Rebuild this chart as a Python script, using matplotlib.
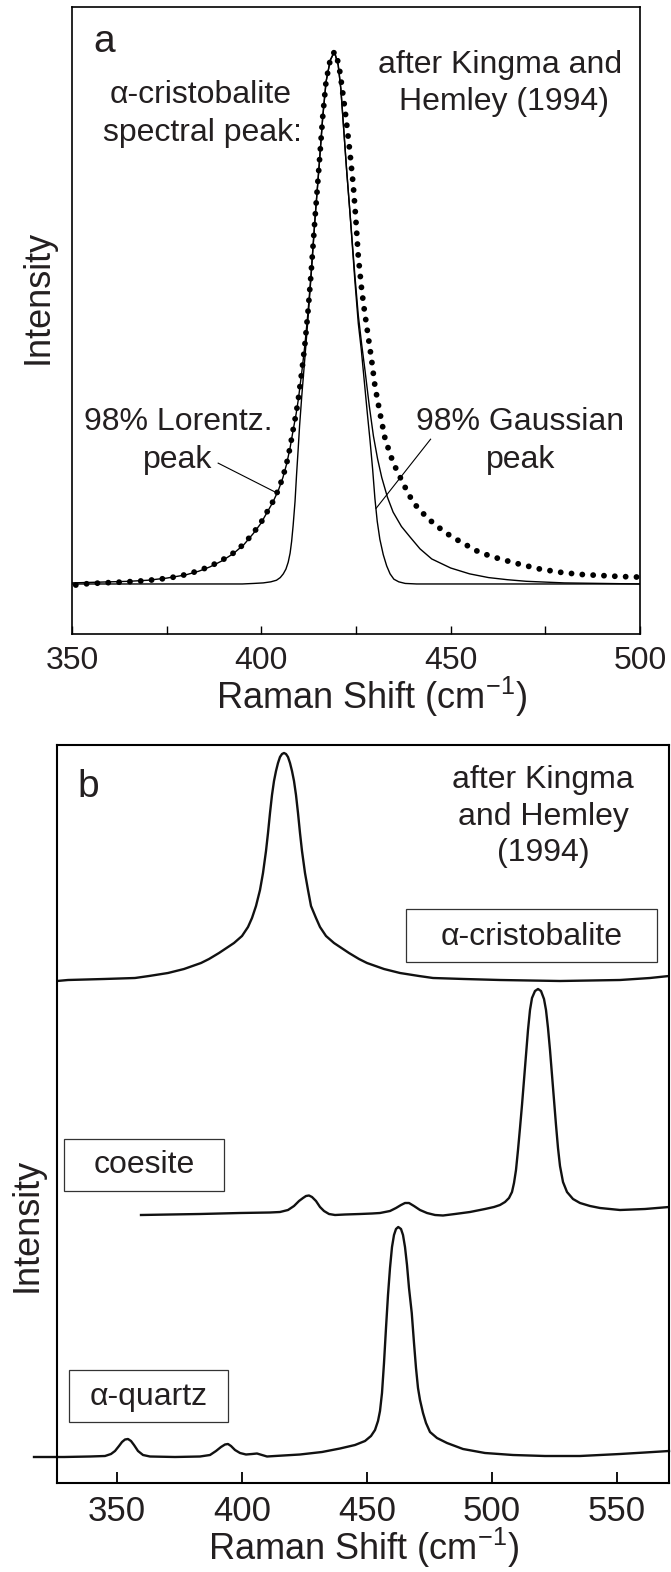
import matplotlib
matplotlib.use('Agg')
import matplotlib.pyplot as plt
from matplotlib.patches import Rectangle
import matplotlib.ticker as mticker

plt.rcParams['font.family'] = ['Liberation Sans', 'DejaVu Sans']
plt.rcParams['mathtext.fontset'] = 'custom'
plt.rcParams['mathtext.rm'] = 'Liberation Sans'
plt.rcParams['mathtext.it'] = 'Liberation Sans:italic'
plt.rcParams['mathtext.default'] = 'regular'

# ---------------- data: panel a (alpha-cristobalite peak) ----------------
obs_x = [351, 353, 358, 364.4, 369, 373.2, 377, 380.3, 383.5, 386.4, 389.5, 392.6, 395.4,
         397.9, 399.8, 401.4, 403.0, 404.5, 405.7, 406.7, 407.6, 408.4, 409.2, 409.8, 410.7,
         411.5, 412.3, 413.1, 414.2, 415.3, 416.2, 417.1, 418.2, 419.3, 420.1, 420.8, 422.1,
         423.4, 424.3, 424.9, 425.6, 426.5, 427.1, 428.2, 429.1, 430.0, 431.3, 432.7, 434.8,
         437.5, 440.1, 443.7, 446.3, 449.8, 452.9, 457.7, 463.0, 468.3, 473.6, 478.9, 484.1,
         489.4, 494.7, 499.5]
obs_y = [-0.002, 0.000, 0.002, 0.004, 0.006, 0.009, 0.013, 0.018, 0.025, 0.033, 0.044, 0.058, 0.075,
         0.096, 0.114, 0.134, 0.154, 0.177, 0.201, 0.227, 0.257, 0.290, 0.321, 0.349, 0.400,
         0.450, 0.510, 0.580, 0.690, 0.790, 0.877, 0.945, 0.985, 1.000, 0.985, 0.960, 0.891,
         0.811, 0.747, 0.691, 0.616, 0.553, 0.520, 0.466, 0.422, 0.372, 0.322, 0.272, 0.228,
         0.188, 0.153, 0.125, 0.109, 0.091, 0.078, 0.059, 0.047, 0.037, 0.028, 0.022, 0.018,
         0.016, 0.014, 0.013]

lor_x = [350, 355, 360, 365, 370, 375, 380, 383.5, 386.4, 389.5, 392.6, 395.4, 397.9, 399.8,
         401.4, 403.0, 404.5, 405.7, 406.7, 407.6, 408.4, 409.2, 409.8, 410.7, 411.5, 412.3,
         413.1, 414.2, 415.3, 416.2, 417.1, 418.2, 419.3, 420.3, 421.0, 421.6, 422.5, 423.4,
         424.7, 425.6, 426.5, 427.4, 428.5, 429.6, 430.7, 431.8, 433.3, 434.8, 437.0, 439.3,
         441.9, 445.0, 450.0, 455.0, 460.0, 465.0, 470.0, 480.0, 490.0, 500.0]
lor_y = [0.002, 0.003, 0.004, 0.005, 0.007, 0.011, 0.017, 0.024, 0.032, 0.043, 0.057, 0.074, 0.095,
         0.113, 0.133, 0.153, 0.176, 0.200, 0.226, 0.256, 0.289, 0.320, 0.348, 0.399, 0.449,
         0.509, 0.579, 0.689, 0.789, 0.876, 0.944, 0.984, 1.000, 0.975, 0.930, 0.870, 0.780,
         0.698, 0.580, 0.505, 0.450, 0.400, 0.335, 0.278, 0.235, 0.200, 0.163, 0.135, 0.108,
         0.088, 0.066, 0.047, 0.030, 0.019, 0.012, 0.008, 0.005, 0.002, 0.001, 0.000]

gau_x = [350, 395, 398, 400.5, 402.5, 404.0, 405.0, 405.8, 406.5, 407.1, 407.6, 408.0, 408.4,
         408.9, 409.3, 409.7, 410.1, 410.7, 411.5, 412.4, 413.2, 414.2, 415.3, 416.2, 417.1,
         418.2, 419.3, 420.3, 421.0, 421.6, 422.5, 423.4, 424.7, 425.6, 426.4, 427.2, 428.0,
         428.7, 429.4, 430.0, 430.6, 431.3, 432.2, 433.1, 434.0, 435.0, 436.3, 438.0, 441.0,
         500]
gau_y = [0.000, 0.000, 0.001, 0.002, 0.004, 0.007, 0.012, 0.019, 0.028, 0.041, 0.058, 0.080, 0.110,
         0.155, 0.205, 0.250, 0.297, 0.355, 0.425, 0.505, 0.585, 0.689, 0.789, 0.876, 0.944,
         0.984, 1.000, 0.975, 0.930, 0.870, 0.780, 0.698, 0.570, 0.490, 0.440, 0.380, 0.320,
         0.270, 0.215, 0.160, 0.118, 0.084, 0.055, 0.034, 0.019, 0.009, 0.004, 0.001, 0.000,
         0.000]

a_ticks_major = [350, 400, 450, 500]
a_ticks_minor = [375, 425, 475]

# ---------------- data: panel b (silica polymorph spectra) ----------------
cri_x = [326.0, 330.4, 344.8, 357.2, 362.8, 370.4, 376.8, 383.6, 386.8, 390.8, 394.4, 396.8,
         400.0, 402.4, 404.0, 405.6, 407.2, 408.4, 409.6, 410.4, 411.2, 412.0, 412.8, 413.6,
         414.4, 415.2, 416.0, 416.8, 417.6, 418.4, 419.2, 420.0, 420.8, 421.6, 422.4, 423.2,
         424.0, 425.2, 426.4, 427.6, 429.6, 431.2, 433.6, 436.8, 439.2, 442.8, 446.8, 450.0,
         456.8, 463.2, 470.8, 476.4, 488.8, 503.2, 527.2, 551.2, 563.2, 570.8]
cri_y = [5.02, 5.03, 5.04, 5.05, 5.07, 5.10, 5.14, 5.20, 5.24, 5.30, 5.36, 5.40,
         5.47, 5.56, 5.65, 5.77, 5.93, 6.10, 6.32, 6.50, 6.70, 6.88, 7.02, 7.12,
         7.20, 7.26, 7.29, 7.30, 7.29, 7.26, 7.20, 7.12, 7.02, 6.88, 6.70, 6.50,
         6.32, 6.10, 5.93, 5.77, 5.65, 5.56, 5.47, 5.40, 5.36, 5.30, 5.24, 5.20,
         5.14, 5.10, 5.07, 5.05, 5.04, 5.03, 5.02, 5.03, 5.05, 5.07]

coe_x = [359.6, 371.2, 383.2, 399.2, 411.2, 415.2, 418.4, 420.8, 422.8, 424.4, 425.6, 426.8,
         428.0, 429.6, 431.2, 432.8, 434.8, 437.2, 441.2, 447.2, 452.0, 455.2, 459.2, 461.6,
         463.6, 465.2, 466.8, 468.8, 471.2, 474.0, 477.2, 480.4, 485.2, 491.2, 497.2, 500.8,
         503.2, 505.2, 506.8, 508.0, 508.8, 509.6, 510.4, 511.2, 512.0, 512.8, 513.6, 514.4,
         515.2, 516.0, 517.2, 518.4, 519.6, 520.8, 521.6, 522.4, 523.2, 524.0, 524.8, 525.6,
         526.4, 527.2, 528.4, 530.0, 532.4, 535.2, 539.2, 543.2, 551.2, 561.2, 570.8]
coe_y = [2.680, 2.685, 2.690, 2.700, 2.705, 2.710, 2.730, 2.770, 2.820, 2.850, 2.870, 2.875,
         2.860, 2.820, 2.760, 2.720, 2.690, 2.680, 2.685, 2.690, 2.695, 2.700, 2.720, 2.750,
         2.780, 2.800, 2.800, 2.770, 2.730, 2.700, 2.680, 2.675, 2.690, 2.710, 2.740, 2.760,
         2.780, 2.810, 2.850, 2.910, 3.000, 3.130, 3.330, 3.550, 3.780, 4.030, 4.280, 4.530,
         4.730, 4.850, 4.920, 4.940, 4.920, 4.840, 4.730, 4.550, 4.330, 4.080, 3.830, 3.580,
         3.350, 3.170, 3.010, 2.910, 2.840, 2.800, 2.770, 2.750, 2.730, 2.740, 2.760]

qtz_x = [316.8, 323.2, 328.8, 339.2, 345.2, 347.6, 349.2, 350.8, 352.0, 353.2, 354.4, 355.6,
         356.8, 358.4, 360.4, 363.2, 373.2, 383.2, 387.2, 389.6, 391.6, 393.2, 394.4, 395.6,
         397.2, 399.2, 401.6, 404.0, 406.0, 408.0, 410.0, 413.2, 423.2, 432.0, 439.2, 445.2,
         449.2, 451.6, 453.2, 454.4, 455.2, 456.0, 456.8, 457.6, 458.4, 459.2, 460.0, 460.8,
         461.6, 462.5, 463.6, 464.4, 465.2, 466.0, 466.8, 467.9, 468.8, 469.6, 470.4, 471.2,
         472.4, 473.6, 475.2, 478.0, 482.0, 488.4, 497.2, 508.4, 521.2, 535.2, 551.2, 561.2,
         570.8]
qtz_y = [0.260, 0.260, 0.260, 0.265, 0.270, 0.290, 0.320, 0.370, 0.410, 0.435, 0.440, 0.420,
         0.380, 0.320, 0.280, 0.265, 0.260, 0.265, 0.280, 0.320, 0.360, 0.385, 0.390, 0.370,
         0.330, 0.300, 0.285, 0.290, 0.295, 0.280, 0.265, 0.270, 0.285, 0.310, 0.345, 0.380,
         0.420, 0.470, 0.530, 0.620, 0.720, 0.900, 1.200, 1.550, 1.880, 2.150, 2.360, 2.480,
         2.540, 2.560, 2.540, 2.480, 2.360, 2.180, 1.950, 1.700, 1.400, 1.150, 0.950, 0.830,
         0.700, 0.600, 0.510, 0.450, 0.400, 0.340, 0.300, 0.280, 0.270, 0.270, 0.290, 0.305,
         0.320]

b_ticks = [350, 400, 450, 500, 550]

# ---------------- figure ----------------
W, H = 671, 1572
fig = plt.figure(figsize=(W / 100, H / 100), dpi=100)
TXT = '#231f20'
LINE = '#111111'


def fx(x):
    return x / W


def fy(y):
    return 1 - y / H


def ftext(x, y, s, size, **kw):
    kw.setdefault('ha', 'center')
    kw.setdefault('va', 'baseline')
    fig.text(fx(x), fy(y), s, fontsize=size, color=TXT, **kw)


# ---- panel a ----
axA = fig.add_axes([fx(72), fy(634), (640 - 72) / W, (634 - 7) / H])
axA.plot(lor_x, lor_y, color='black', lw=1.0)
axA.plot(gau_x, gau_y, color='black', lw=1.0)
axA.plot(obs_x, obs_y, color='black', lw=4.2, linestyle=(0, (0.01, 1.85)),
         dash_capstyle='round', solid_capstyle='round')
# leader lines
axA.plot([388.6, 404.4], [0.227, 0.170], color='black', lw=0.8)
axA.plot([444.7, 430.3], [0.272, 0.142], color='black', lw=0.8)
axA.set_xlim(350, 500)
axA.set_ylim(-0.094, 1.084)
axA.xaxis.set_major_locator(mticker.FixedLocator(a_ticks_major))
axA.xaxis.set_minor_locator(mticker.FixedLocator(a_ticks_minor))
axA.tick_params(axis='x', which='both', direction='in', length=5.5, width=1.0,
                labelsize=23, pad=8.5, labelcolor=TXT)
axA.tick_params(axis='x', which='minor', labelbottom=False)
axA.set_yticks([])
for sp in axA.spines.values():
    sp.set_linewidth(1.2)

ftext(104, 52, 'a', 28)
ftext(201, 103, 'α-cristobalite', 23)
ftext(202, 141, 'spectral peak:', 23)
ftext(500, 73, 'after Kingma and', 23)
ftext(504, 110, 'Hemley (1994)', 23)
ftext(178, 430, '98% Lorentz.', 23)
ftext(178, 468, 'peak', 23)
ftext(520, 430, '98% Gaussian', 23)
ftext(521, 468, 'peak', 23)
ftext(38, 297, 'Intensity', 26, rotation=90, va='center')
ftext(372, 709, 'Raman Shift (cm$^{-1}$)', 26)

# ---- panel b ----
axB = fig.add_axes([fx(57), fy(1483), (669 - 57) / W, (1483 - 745) / H])
axB.plot(cri_x, cri_y, color=LINE, lw=1.7)
axB.plot(coe_x, coe_y, color=LINE, lw=1.7)
axB.plot(qtz_x, qtz_y, color=LINE, lw=1.7, clip_on=False)
axB.set_xlim(326.0, 570.8)
axB.set_ylim(0, 7.38)
axB.set_xticks(b_ticks)
axB.tick_params(axis='x', direction='in', length=8, width=1.3,
                labelsize=25, pad=8.5, labelcolor=TXT)
axB.set_yticks([])
for sp in axB.spines.values():
    sp.set_linewidth(1.5)

ftext(88, 797, 'b', 28)
ftext(543, 788, 'after Kingma', 23)
ftext(543, 825, 'and Hemley', 23)
ftext(543, 861, '(1994)', 23)

boxes = [((406, 909, 657, 962), 'α-cristobalite', 945),
         ((64, 1139, 224, 1191), 'coesite', 1173),
         ((69, 1370, 228, 1422), 'α-quartz', 1405)]
for (x0, y0, x1, y1), label, base in boxes:
    fig.add_artist(Rectangle((fx(x0), fy(y1)), (x1 - x0) / W, (y1 - y0) / H,
                             transform=fig.transFigure, fill=False, lw=0.9,
                             edgecolor='#333333'))
    ftext((x0 + x1) / 2, base, label, 23)

ftext(27, 1225, 'Intensity', 26, rotation=90, va='center')
ftext(363.5, 1560, 'Raman Shift (cm$^{-1}$)', 26)

fig.savefig('out.png', dpi=100)
